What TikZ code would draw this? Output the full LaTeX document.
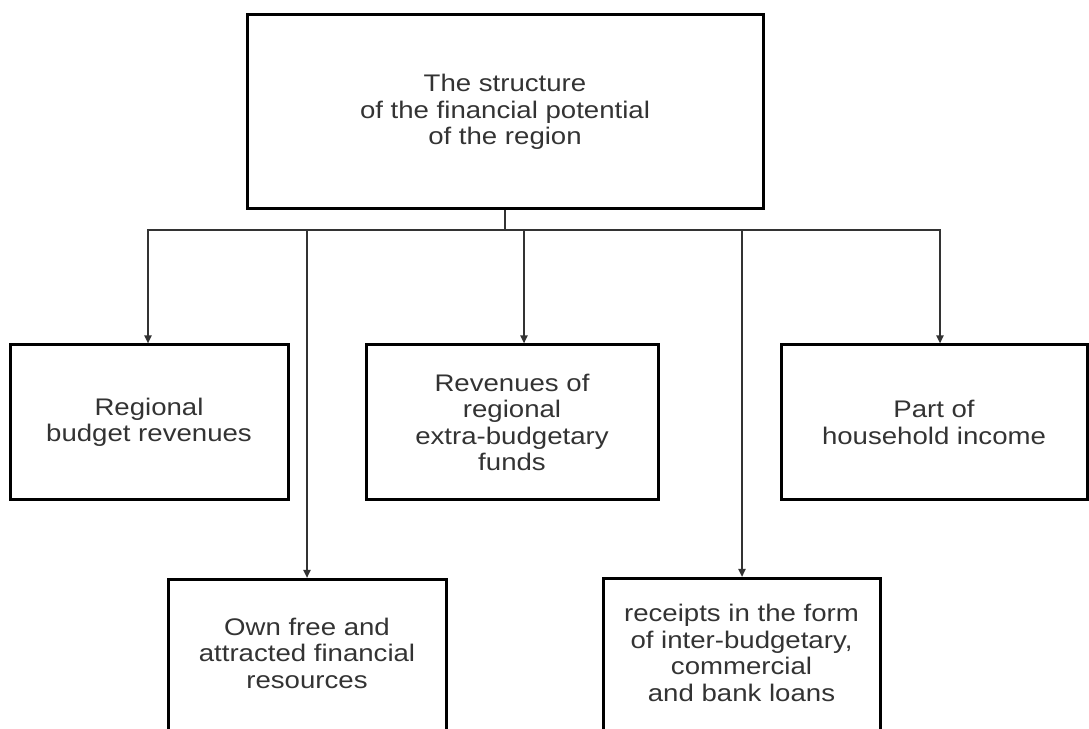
\documentclass[tikz,border=0pt]{standalone}
\usepackage{fontspec}
\usepackage{tikz}
\usetikzlibrary{arrows.meta}
\usepackage{xcolor}
\newfontfamily\boxfont[FakeStretch=1.15]{Liberation Sans}
\definecolor{boxline}{RGB}{0,0,0}
\definecolor{linkgray}{RGB}{51,51,51}
\definecolor{textgray}{RGB}{51,51,51}

\begin{document}
\begin{tikzpicture}[x=1pt, y=1pt,
    box/.style={draw=boxline, line width=3pt, rectangle, inner sep=0pt,
        align=center, text=textgray, font=\boxfont\fontsize{24}{26.5}\selectfont},
    txt/.style={align=center, text=textgray, inner sep=0pt,
        font=\boxfont\fontsize{24}{26.5}\selectfont},
    link/.style={draw=linkgray, line width=2pt, -{Triangle[length=8pt, width=7pt]}},
    bus/.style={draw=linkgray, line width=2pt}]
    \useasboundingbox (0,0) rectangle (1089,728);
    \clip (0,0) rectangle (1089,728);

    % Top of the structure
    \node[box, minimum width=516, minimum height=194] (top) at (505,616)
        {The structure\\of the financial potential\\of the region};

    % First row of sources
    \node[box, minimum width=278, minimum height=155] (regbud) at (149,305.5)
        {Regional\\budget revenues};
    \node[box, minimum width=292, minimum height=155] (extra) at (512,305.5)
        {Revenues of\\regional\\extra-budgetary\\funds};
    \node[box, minimum width=306, minimum height=155] (house) at (934,305.5)
        {Part of\\household income};

    % Second row, cut by the lower edge
    \node[box, minimum width=278, minimum height=200, anchor=north] (own) at (307,150) {};
    \node[txt] (ownT) at ([yshift=-75pt]own.north)
        {Own free and\\attracted financial\\resources};
    \node[box, minimum width=277, minimum height=200, anchor=north] (loans) at (741.5,151) {};
    \node[txt] (loansT) at ([yshift=-76pt]loans.north)
        {receipts in the form\\of inter-budgetary,\\commercial\\and bank loans};

    % Connectors from the top box
    \draw[bus] (top.south) -- ++(0,-20) coordinate (split);
    \draw[link] (split) -| ([xshift=-1pt]regbud.north);
    \draw[link] (split) -| (own.north);
    \draw[link] (split) -| ([xshift=12pt]extra.north);
    \draw[link] (split) -| ([xshift=0.5pt]loans.north);
    \draw[link] (split) -| ([xshift=6pt]house.north);
\end{tikzpicture}
\end{document}
